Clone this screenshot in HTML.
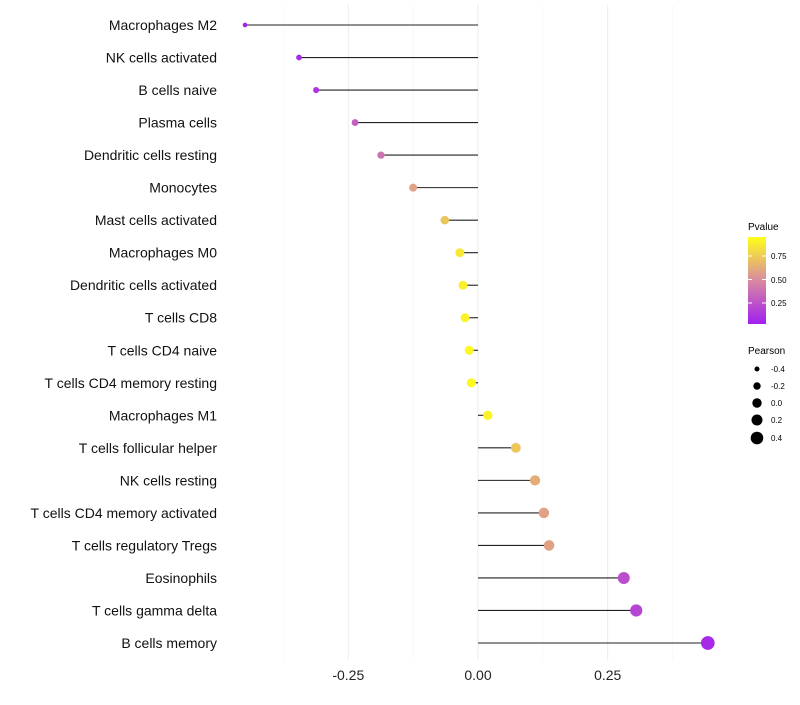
<!DOCTYPE html>
<html><head><meta charset="utf-8"><style>
body{margin:0;background:#fff}
svg text{font-family:"Liberation Sans",sans-serif}
</style></head><body>
<svg id="chart" width="800" height="700" xmlns="http://www.w3.org/2000/svg">
<defs><linearGradient id="pg" x1="0" y1="1" x2="0" y2="0">
<stop offset="0" stop-color="#a21ff0"/><stop offset="0.5" stop-color="#d88aa0"/><stop offset="1" stop-color="#ffff1a"/></linearGradient></defs>
<g id="grid"></g><g id="marks"></g><g id="labels"></g>
<g>
<text x="748" y="230" font-size="10">Pvalue</text>
<rect x="748" y="237" width="18" height="87" fill="url(#pg)"/>
<line x1="748" x2="752" y1="256" y2="256" stroke="#fff"/><line x1="762" x2="766" y1="256" y2="256" stroke="#fff"/>
<line x1="748" x2="752" y1="279.5" y2="279.5" stroke="#fff"/><line x1="762" x2="766" y1="279.5" y2="279.5" stroke="#fff"/>
<line x1="748" x2="752" y1="303" y2="303" stroke="#fff"/><line x1="762" x2="766" y1="303" y2="303" stroke="#fff"/>
<text x="771" y="259" font-size="8">0.75</text>
<text x="771" y="283" font-size="8">0.50</text>
<text x="771" y="306" font-size="8">0.25</text>
</g>
<g>
<text x="748" y="354" font-size="10">Pearson</text>
<circle cx="757" cy="369" r="2.5"/><text x="771" y="372" font-size="8">-0.4</text>
<circle cx="757" cy="386" r="3.7"/><text x="771" y="389" font-size="8">-0.2</text>
<circle cx="757" cy="403" r="4.7"/><text x="771" y="406" font-size="8">0.0</text>
<circle cx="757" cy="420" r="5.5"/><text x="771" y="423" font-size="8">0.2</text>
<circle cx="757" cy="438" r="6.3"/><text x="771" y="441" font-size="8">0.4</text>
</g>
</svg>
<script>
const cells=["Macrophages M2","NK cells activated","B cells naive","Plasma cells","Dendritic cells resting","Monocytes","Mast cells activated","Macrophages M0","Dendritic cells activated","T cells CD8","T cells CD4 naive","T cells CD4 memory resting","Macrophages M1","T cells follicular helper","NK cells resting","T cells CD4 memory activated","T cells regulatory  Tregs ","Eosinophils","T cells gamma delta","B cells memory"];
const pearson=[-0.449,-0.345,-0.312,-0.237,-0.187,-0.125,-0.064,-0.035,-0.029,-0.025,-0.017,-0.013,0.019,0.073,0.110,0.127,0.137,0.281,0.305,0.443];
const pvalue=[0.02,0.06,0.1,0.3,0.4,0.6,0.75,0.9,0.93,0.95,0.97,0.98,0.95,0.75,0.65,0.6,0.6,0.22,0.18,0.05];
const ticks=[-0.25,0,0.25];
const tickLabels=["-0.25","0.00","0.25"];
const NS="http://www.w3.org/2000/svg";
const x=v=>478+v*518.8;
const y=i=>25+i*(618/(cells.length-1));
const r=p=>4.6+5*p;
function mix(a,b,t){return a.map((v,k)=>Math.round(v+(b[k]-v)*t));}
function col(p){const c0=[162,31,240],c1=[216,138,160],c2=[255,255,26];
 const c=p<0.5?mix(c0,c1,p/0.5):mix(c1,c2,(p-0.5)/0.5);return `rgb(${c})`;}
function mk(t,a,parent){const e=document.createElementNS(NS,t);for(const k in a)e.setAttribute(k,a[k]);document.getElementById(parent).appendChild(e);return e;}
[-0.375,-0.125,0.125,0.375].forEach(v=>{const l=mk('line',{x1:x(v),x2:x(v),y1:5,y2:660,stroke:'#f5f5f5','stroke-width':0.6},'grid');

});
ticks.forEach((v,i)=>{const l=mk('line',{x1:x(v),x2:x(v),y1:5,y2:660,stroke:'#ebebeb','stroke-width':1},'grid');


const t=mk('text',{x:x(v),y:680,'font-size':14,'text-anchor':'middle',fill:'#222'},'labels');t.textContent=tickLabels[i];

});
cells.forEach((c,i)=>{
const l=mk('line',{x1:x(0),x2:x(pearson[i]),y1:y(i),y2:y(i),stroke:'#222','stroke-width':1.1},'marks');


const d=mk('circle',{cx:x(pearson[i]),cy:y(i),r:r(pearson[i]),fill:col(pvalue[i])},'marks');


const t=mk('text',{x:217,y:y(i)+5,'font-size':14,'text-anchor':'end',fill:'#111'},'labels');t.textContent=c;

});
</script>
</body></html>
